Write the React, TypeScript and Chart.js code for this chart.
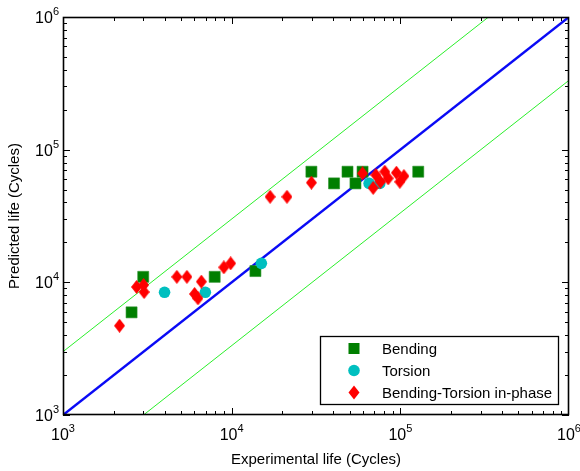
import React, { useEffect, useRef } from 'react';
import { Chart, registerables } from 'chart.js';

Chart.register(...registerables);

// Experimental vs. predicted fatigue life (cycles)
const bendingX = [2990, 2550, 7930, 13830, 29700, 40460, 48620, 54200, 59700, 127700];
const bendingY = [11000, 5940, 11000, 12160, 68200, 55700, 68200, 55700, 68200, 68200];

const torsionX = [4000, 6980, 15000, 65300, 75500];
const torsionY = [8410, 8410, 13900, 55700, 55700];

const inPhaseX = [2163, 2730, 3005, 3025, 4730, 5430, 6610, 6030, 6310, 8990, 9860, 16900, 21280, 29700, 59700, 69000, 71600, 76200, 80900, 84700, 94800, 99300, 105000];
const inPhaseY = [4710, 9230, 9550, 8450, 11000, 11000, 10120, 8170, 7570, 12970, 13900, 44160, 44160, 56400, 66200, 51500, 64400, 57300, 68200, 60800, 67000, 57300, 63200];

const seriesNames = ['Bending', 'Torsion', 'Bending-Torsion in-phase'];
const decades = [3, 4, 5, 6];
const axisMin = 1e3;
const axisMax = 1e6;
const scatterBand = 3; // factor-of-3 scatter band

const FONT = '"Liberation Sans", Arial, sans-serif';
const GREEN = '#007f00';
const CYAN = '#00bfbf';
const RED = '#ff0000';

const zip = (xs: number[], ys: number[]) => xs.map((x, i) => ({ x, y: ys[i] }));

function makeDiamond(w: number, h: number, color: string): HTMLCanvasElement {
  const c = document.createElement('canvas');
  c.width = w;
  c.height = h;
  const g = c.getContext('2d')!;
  g.fillStyle = color;
  g.beginPath();
  g.moveTo(w / 2, 0);
  g.lineTo(w, h / 2);
  g.lineTo(w / 2, h);
  g.lineTo(0, h / 2);
  g.closePath();
  g.fill();
  return c;
}

function drawPower(ctx: CanvasRenderingContext2D, exp: number, x: number, y: number, align: 'center' | 'right') {
  ctx.font = `16px ${FONT}`;
  const baseW = ctx.measureText('10').width;
  ctx.font = `11px ${FONT}`;
  const supW = ctx.measureText(String(exp)).width;
  const total = baseW + supW;
  const left = align === 'center' ? x - total / 2 : x - total;
  ctx.textAlign = 'left';
  ctx.textBaseline = 'alphabetic';
  ctx.font = `16px ${FONT}`;
  ctx.fillText('10', left, y);
  ctx.font = `11px ${FONT}`;
  ctx.fillText(String(exp), left + baseW, y - 8);
}

const axesPlugin = {
  id: 'logFrame',
  afterDraw(chart: any) {
    const { ctx, chartArea: a, scales } = chart;
    const xs = scales.x;
    const ys = scales.y;
    ctx.save();
    ctx.strokeStyle = '#000';
    ctx.fillStyle = '#000';
    ctx.lineWidth = 1;

    // tick marks on all four sides, pointing inward
    ctx.beginPath();
    for (let d = decades[0]; d < decades[decades.length - 1]; d++) {
      for (let m = 1; m <= 9; m++) {
        const v = m * Math.pow(10, d);
        const len = m === 1 ? 7 : 4;
        const px = Math.round(xs.getPixelForValue(v)) + 0.5;
        const py = Math.round(ys.getPixelForValue(v)) + 0.5;
        ctx.moveTo(px, a.bottom);
        ctx.lineTo(px, a.bottom - len);
        ctx.moveTo(px, a.top);
        ctx.lineTo(px, a.top + len);
        ctx.moveTo(a.left, py);
        ctx.lineTo(a.left + len, py);
        ctx.moveTo(a.right, py);
        ctx.lineTo(a.right - len, py);
      }
    }
    ctx.stroke();

    ctx.lineWidth = 1.6;
    ctx.strokeRect(a.left + 0.5, a.top + 0.5, a.right - a.left - 1, a.bottom - a.top - 1);
    ctx.lineWidth = 1;

    // decade labels
    for (const d of decades) {
      const v = Math.pow(10, d);
      drawPower(ctx, d, xs.getPixelForValue(v), a.bottom + 25, 'center');
      drawPower(ctx, d, a.left - 4, ys.getPixelForValue(v) + 6, 'right');
    }

    // axis titles
    ctx.font = `15px ${FONT}`;
    ctx.textAlign = 'center';
    ctx.textBaseline = 'middle';
    ctx.fillText('Experimental life (Cycles)', (a.left + a.right) / 2, 460);
    ctx.save();
    ctx.translate(15, (a.top + a.bottom) / 2);
    ctx.rotate(-Math.PI / 2);
    ctx.fillText('Predicted life (Cycles)', 0, 0);
    ctx.restore();

    // legend
    const lx = 320.5;
    const ly = 336.5;
    const lw = 238;
    const lh = 68;
    ctx.fillStyle = '#fff';
    ctx.fillRect(lx, ly, lw, lh);
    ctx.strokeStyle = '#000';
    ctx.lineWidth = 1.3;
    ctx.strokeRect(lx, ly, lw, lh);
    const rows = [348.5, 370.5, 392.5];
    const mx = 354;
    ctx.fillStyle = GREEN;
    ctx.fillRect(mx - 5.5, rows[0] - 5.5, 11, 11);
    ctx.fillStyle = CYAN;
    ctx.beginPath();
    ctx.arc(mx, rows[1], 5.8, 0, Math.PI * 2);
    ctx.fill();
    ctx.fillStyle = RED;
    ctx.beginPath();
    ctx.moveTo(mx, rows[2] - 7);
    ctx.lineTo(mx + 5.5, rows[2]);
    ctx.lineTo(mx, rows[2] + 7);
    ctx.lineTo(mx - 5.5, rows[2]);
    ctx.closePath();
    ctx.fill();
    ctx.fillStyle = '#000';
    ctx.font = `15px ${FONT}`;
    ctx.textAlign = 'left';
    ctx.textBaseline = 'middle';
    seriesNames.forEach((name, i) => ctx.fillText(name, 382, rows[i] + 1));
    ctx.restore();
  },
};

export default function App() {
  const ref = useRef<HTMLCanvasElement | null>(null);

  useEffect(() => {
    if (!ref.current) return;
    const diamond = makeDiamond(11, 14, RED);
    const chart = new Chart(ref.current, {
      type: 'scatter',
      data: {
        datasets: [
          {
            label: seriesNames[2],
            data: zip(inPhaseX, inPhaseY),
            pointStyle: diamond as any,
            order: 1,
          },
          {
            label: seriesNames[1],
            data: zip(torsionX, torsionY),
            pointStyle: 'circle',
            pointRadius: 5.8,
            backgroundColor: CYAN,
            borderWidth: 0,
            order: 2,
          },
          {
            label: seriesNames[0],
            data: zip(bendingX, bendingY),
            pointStyle: 'rect',
            pointRadius: 7.8,
            backgroundColor: GREEN,
            borderColor: '#2a922a',
            borderWidth: 0.6,
            order: 3,
          },
          {
            label: 'y = x',
            data: [{ x: axisMin, y: axisMin }, { x: axisMax, y: axisMax }],
            showLine: true,
            borderColor: '#0a0af5',
            borderWidth: 2.5,
            pointRadius: 0,
            order: 4,
          },
          {
            label: 'upper band',
            data: [{ x: axisMin, y: axisMin * scatterBand }, { x: axisMax / scatterBand, y: axisMax }],
            showLine: true,
            borderColor: '#2bef2b',
            borderWidth: 1,
            pointRadius: 0,
            order: 5,
          },
          {
            label: 'lower band',
            data: [{ x: axisMin * scatterBand, y: axisMin }, { x: axisMax, y: axisMax / scatterBand }],
            showLine: true,
            borderColor: '#2bef2b',
            borderWidth: 1,
            pointRadius: 0,
            order: 6,
          },
        ],
      },
      options: {
        responsive: false,
        animation: false,
        devicePixelRatio: 1,
        layout: { padding: { left: 63, top: 17, right: 11, bottom: 56 } },
        plugins: { legend: { display: false }, tooltip: { enabled: false } },
        scales: {
          x: { type: 'logarithmic', min: axisMin, max: axisMax, display: false },
          y: { type: 'logarithmic', min: axisMin, max: axisMax, display: false },
        },
      },
      plugins: [axesPlugin],
    });
    return () => chart.destroy();
  }, []);

  return (
    <div style={{ position: 'absolute', left: 0, top: 0, width: 580, height: 471, background: '#fff' }}>
      <canvas ref={ref} width={580} height={471} />
    </div>
  );
}
